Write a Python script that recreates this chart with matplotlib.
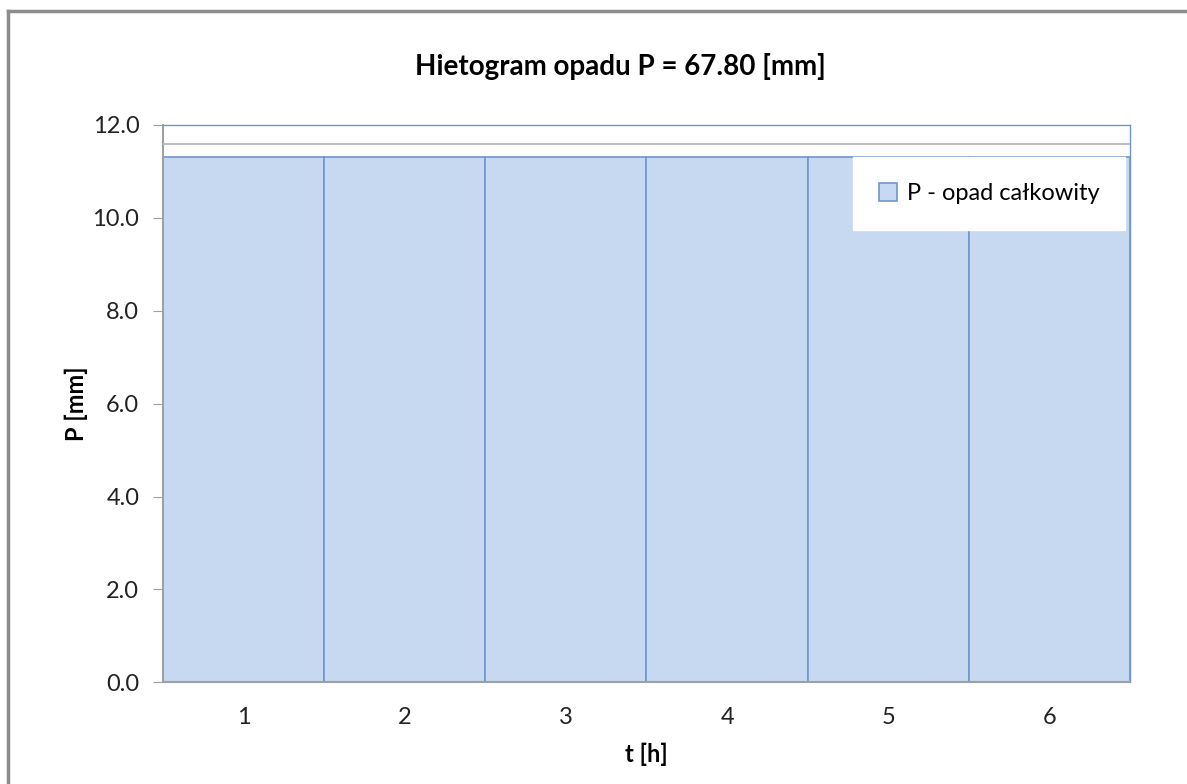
import numpy as np
import matplotlib.pyplot as plt
from matplotlib.lines import Line2D

# dane hietogramu
godziny = [1, 2, 3, 4, 5, 6]
opad = [11.3, 11.3, 11.3, 11.3, 11.3, 11.3]
poziom_linii = 11.58
y_ticks = [0.0, 2.0, 4.0, 6.0, 8.0, 10.0, 12.0]

plt.rcParams['font.family'] = ['Lato', 'DejaVu Sans']

fig = plt.figure(figsize=(11.87, 7.84), dpi=100)
ax = fig.add_axes([0.1373, 0.1297, 0.9520 - 0.1373, 0.8406 - 0.1297])

x = np.arange(len(godziny))
ax.bar(x, opad, width=1.0, color='#C6D9F0', edgecolor='#6F95D0', linewidth=1.2,
       label='P - opad całkowity', zorder=2)
ax.axhline(poziom_linii, color='#C0C0C0', linewidth=1.5, zorder=3)

ax.set_xlim(-0.5, len(godziny) - 0.5)
ax.set_ylim(0, 12)
ax.set_yticks(y_ticks)
ax.set_yticklabels([f"{v:.1f}" for v in y_ticks])
ax.set_xticks(x)
ax.set_xticklabels([str(g) for g in godziny])

ax.tick_params(axis='y', direction='out', length=7, color='#A0A0A0', labelsize=17,
               pad=10, labelcolor='#222222')
ax.tick_params(axis='x', length=0, labelsize=17, pad=18, labelcolor='#222222')

for s in ['top', 'right']:
    ax.spines[s].set_color('#6F95D0')
    ax.spines[s].set_linewidth(1.0)
for s in ['left', 'bottom']:
    ax.spines[s].set_color('#A0A0A0')
    ax.spines[s].set_linewidth(1.5)
ax.spines['bottom'].set_zorder(4)

ax.set_xlabel('t [h]', fontsize=17, fontweight='bold', labelpad=10)
ax.set_ylabel('P [mm]', fontsize=17, fontweight='bold', labelpad=3)
fig.text(0.523, 0.915, 'Hietogram opadu P = 67.80 [mm]', fontsize=20,
         fontweight='bold', ha='center', va='center')

leg = ax.legend(loc='upper right', bbox_to_anchor=(0.995, 0.942), fontsize=17,
                frameon=True, fancybox=False, borderpad=1.1, handlelength=0.75,
                handleheight=0.75, handletextpad=0.4, borderaxespad=0)
leg.get_frame().set_edgecolor('white')
leg.get_frame().set_facecolor('white')
leg.get_frame().set_alpha(1.0)
leg.set_zorder(5)

# ramka wykresu (tylko gora i lewa strona widoczne)
fig.add_artist(Line2D([8 / 1187, 1.0], [1 - 11 / 784, 1 - 11 / 784],
                      transform=fig.transFigure, color='#8C8C8C', linewidth=2.5))
fig.add_artist(Line2D([8 / 1187, 8 / 1187], [0.0, 1 - 11 / 784],
                      transform=fig.transFigure, color='#8C8C8C', linewidth=2.5))

fig.savefig('out.png', dpi=100)
